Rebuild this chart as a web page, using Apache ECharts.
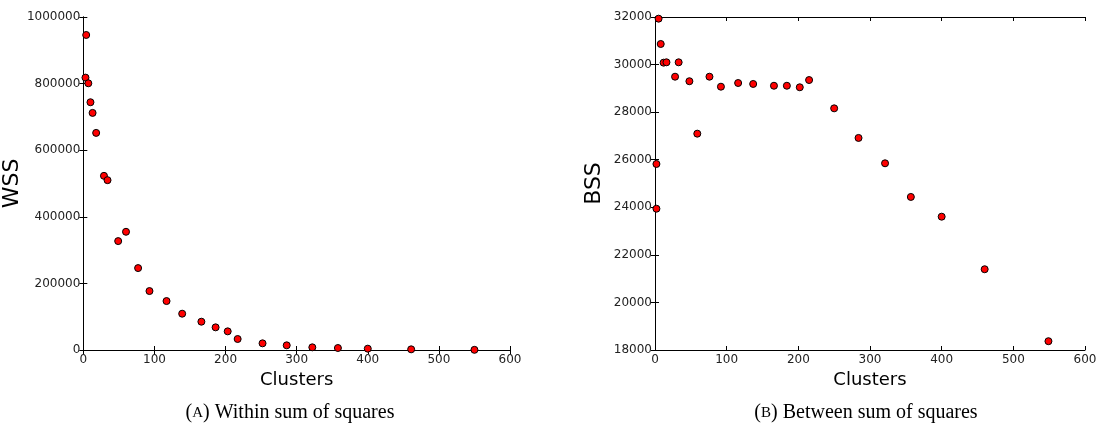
<!DOCTYPE html>
<html>
<head>
<meta charset="UTF-8">
<script src="https://cdn.jsdelivr.net/npm/echarts@6/dist/echarts.min.js"></script>
<style>
  html, body { margin: 0; padding: 0; background: #fff; }
  #chart { width: 1100px; height: 438px; }
</style>
</head>
<body>
<div id="chart"></div>
<script>
// data
const wssClusters = [4, 3, 7, 10, 13, 18, 29, 34, 49, 60, 77, 93, 117, 139, 166, 186, 203, 217, 252, 286, 322, 358, 400, 461, 550];
const wssValues = [946000, 818000, 801000, 744000, 712000, 652000, 523000, 510000, 327000, 355000, 246000, 177000, 147000, 109000, 85000, 68000, 56000, 33000, 20000, 14000, 8000, 6000, 4000, 2000, 500];
const bssClusters = [2, 2, 5, 8, 12, 16, 28, 33, 48, 59, 76, 92, 116, 137, 166, 184, 202, 215, 250, 284, 321, 357, 400, 460, 549];
const bssValues = [25820, 23940, 31930, 30865, 30080, 30095, 29490, 30095, 29300, 27095, 29490, 29070, 29225, 29185, 29110, 29110, 29045, 29350, 28160, 26915, 25850, 24435, 23605, 21395, 18370];

const xTicks = [0, 600, 100];
const wssTicks = [0, 1000000, 200000];
const bssTicks = [18000, 32000, 2000];

const chart = echarts.init(document.getElementById('chart'));

const tickFont = { fontFamily: 'DejaVu Sans', fontSize: 12, color: '#222', formatter: v => String(v) };
const line = { show: true, lineStyle: { color: '#000', width: 1 } };

function xAx(grid, top) {
    return {
        type: 'value', gridIndex: grid, min: xTicks[0], max: xTicks[1], interval: xTicks[2],
        position: top ? 'top' : 'bottom',
        axisLine: line, splitLine: { show: false },
        axisTick: { inside: true, length: 4, lineStyle: { color: '#000' } },
        axisLabel: top ? { show: false } : Object.assign({ margin: 4 }, tickFont),
        name: top ? '' : 'Clusters', nameLocation: 'middle', nameGap: 19,
        nameTextStyle: { fontFamily: 'DejaVu Sans', fontSize: 18, color: '#000' }
    };
}
function yAx(grid, ticks, name, gap, right) {
    return {
        type: 'value', gridIndex: grid, min: ticks[0], max: ticks[1], interval: ticks[2],
        position: right ? 'right' : 'left',
        axisLine: line, splitLine: { show: false },
        axisTick: { inside: true, length: 4, lineStyle: { color: '#000' } },
        axisLabel: right ? { show: false } : Object.assign({ margin: 3 }, tickFont),
        name: right ? '' : name, nameLocation: 'middle', nameGap: gap,
        nameTextStyle: { fontFamily: 'DejaVu Sans', fontSize: 22, color: '#000' }
    };
}
function pts(xs, ys) {
    return xs.map((x, i) => [x, ys[i]]);
}
const dot = { color: '#ff0000', borderColor: '#000', borderWidth: 1, opacity: 1 };

chart.setOption({
    animation: false,
    grid: [
        { left: 80, top: 17, width: 430, height: 333 },
        { left: 655, top: 17, width: 430, height: 333 }
    ],
    xAxis: [xAx(0, false), xAx(0, true), xAx(1, false), xAx(1, true)],
    yAxis: [
        yAx(0, wssTicks, 'WSS', 52, false), yAx(0, wssTicks, '', 0, true),
        yAx(1, bssTicks, 'BSS', 50, false), yAx(1, bssTicks, '', 0, true)
    ],
    series: [
        { type: 'scatter', xAxisIndex: 0, yAxisIndex: 0, symbolSize: 7, clip: true,
          itemStyle: dot, data: pts(wssClusters, wssValues) },
        { type: 'scatter', xAxisIndex: 2, yAxisIndex: 2, symbolSize: 7, clip: true,
          itemStyle: dot, data: pts(bssClusters, bssValues) }
    ],
    graphic: [
        { type: 'text', x: 290, y: 413, style: {
            text: '({sc|A}) Within sum of squares', align: 'center', verticalAlign: 'middle',
            font: '20px "Liberation Serif"', fill: '#000',
            rich: { sc: { fontSize: 15, fontFamily: 'Liberation Serif' } } } },
        { type: 'text', x: 866, y: 413, style: {
            text: '({sc|B}) Between sum of squares', align: 'center', verticalAlign: 'middle',
            font: '20px "Liberation Serif"', fill: '#000',
            rich: { sc: { fontSize: 15, fontFamily: 'Liberation Serif' } } } }
    ]
});
</script>
</body>
</html>
